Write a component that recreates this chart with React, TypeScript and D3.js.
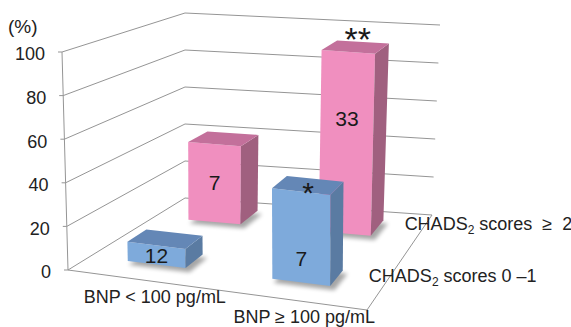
import React from 'react';
import * as d3 from 'd3';

// ---- data ----
const categories = ['BNP < 100 pg/mL', 'BNP ≥ 100 pg/mL'];
const seriesKeys = ['low', 'high'];
const seriesSuffix = [' scores 0 –1', ' scores  ≥  2'];
const lowValues = [9, 42];
const highValues = [40, 92];
const lowCounts = ['12', '7'];
const highCounts = ['7', '33'];
const lowLabelLevel = [4, 11];
const highLabelLevel = [20, 58];
const lowMarks = ['', '*'];
const highMarks = ['', '**'];
const yTicks = [0, 20, 40, 60, 80, 100];

// ---- layout of the 3-D box (screen corners) ----
const W = 571, H = 327;
type P = [number, number];
const FLB: P = [68, 270], FRB: P = [367, 310], BLB: P = [185, 198], BRB: P = [432, 215];
const FLT: P = [62, 52], FRT: P = [367, 86], BLT: P = [185, 13], BRT: P = [440, 25];

const bil = (a: P, b: P, c: P, d: P, u: number, v: number): P => [
  (1 - u) * (1 - v) * a[0] + u * (1 - v) * b[0] + (1 - u) * v * c[0] + u * v * d[0],
  (1 - u) * (1 - v) * a[1] + u * (1 - v) * b[1] + (1 - u) * v * c[1] + u * v * d[1],
];
const proj = (u: number, v: number, h: number): P => {
  const f = bil(FLB, FRB, BLB, BRB, u, v);
  const t = bil(FLT, FRT, BLT, BRT, u, v);
  return [f[0] + (t[0] - f[0]) * h, f[1] + (t[1] - f[1]) * h];
};

const uScale = d3.scaleBand<string>().domain(categories).range([-0.02, 0.98]).paddingInner(0.6).paddingOuter(0.3);
const vScale = d3.scaleBand<string>().domain(seriesKeys).range([0.03, 1.07]).paddingInner(0.69).paddingOuter(0.29);
const hScale = d3.scaleLinear().domain([0, 100]).range([0, 1]);

const colors: Record<string, { front: string; side: string; top: string }> = {
  low: { front: '#7eaadb', side: '#5a7ba2', top: '#6487b6' },
  high: { front: '#f08fbf', side: '#a0607f', top: '#c3709b' },
};

const poly = (pts: P[]) => pts.map((p) => p.join(',')).join(' ');
const FONT = '"Liberation Sans", Arial, Helvetica, sans-serif';
const FS = 18;

export default function App() {
  const series = [
    { key: 'low', values: lowValues, counts: lowCounts, levels: lowLabelLevel, marks: lowMarks },
    { key: 'high', values: highValues, counts: highCounts, levels: highLabelLevel, marks: highMarks },
  ];
  const bw = uScale.bandwidth();
  const bd = vScale.bandwidth();

  const grid = yTicks.map((t) => {
    const h = hScale(t);
    return [proj(0, 0, h), proj(0, 1, h), proj(1, 1, h)];
  });

  const drawOrder = [...series].reverse();
  const gridColor = '#959595';

  return (
    <svg width={W} height={H} style={{ position: 'fixed', left: 0, top: 0, background: '#fff' }}
      fontFamily={FONT}>
      <defs>
        <filter id="sh" x="-30%" y="-30%" width="160%" height="160%">
          <feGaussianBlur stdDeviation="2" />
        </filter>
      </defs>
      <rect x={0} y={0} width={W} height={H} fill="#fff" />
      {grid.map((g, i) => (
        <polyline key={i} points={poly(g)} fill="none" stroke={gridColor} strokeWidth={1} />
      ))}
      <polyline points={poly([proj(0, 0, 0), proj(1, 0, 0), proj(1, 1, 0)])} fill="none" stroke={gridColor} strokeWidth={1} />
      <line x1={proj(0, 0, 0)[0]} y1={proj(0, 0, 0)[1]} x2={proj(0, 0, 1)[0]} y2={proj(0, 0, 1)[1]} stroke={gridColor} strokeWidth={1} />
      {yTicks.map((t) => {
        const p = proj(0, 0, hScale(t));
        return (
          <g key={t}>
            <line x1={p[0] - 4} y1={p[1]} x2={p[0]} y2={p[1]} stroke={gridColor} />
            <text x={p[0] - 17} y={p[1] + 2} dy="0.35em" textAnchor="end" fontSize={FS} fill="#222">{t}</text>
          </g>
        );
      })}
      <text x={8} y={33} fontSize={19} fill="#222">(%)</text>

      {drawOrder.map((s) => (
        <g key={s.key}>
          {categories.map((c, i) => {
            const u0 = uScale(c)!, u1 = u0 + bw;
            const v0 = vScale(s.key)!, v1 = v0 + bd;
            const t = hScale(s.values[i]);
            const col = colors[s.key];
            const front = [proj(u0, v0, 0), proj(u1, v0, 0), proj(u1, v0, t), proj(u0, v0, t)];
            const side = [proj(u1, v0, 0), proj(u1, v1, 0), proj(u1, v1, t), proj(u1, v0, t)];
            const top = [proj(u0, v0, t), proj(u1, v0, t), proj(u1, v1, t), proj(u0, v1, t)];
            const shadow = [proj(u0, v0 - 0.01, 0), proj(u1 + 0.01, v0 - 0.01, 0), proj(u1 + 0.01, v1, 0), proj(u0, v1, 0)];
            const lab = proj(u0 + bw / 2, v0, hScale(s.levels[i]));
            const tc = proj(u0 + bw / 2, v0 + bd / 2, t);
            const mark = s.marks[i];
            const mfs = mark.length > 1 ? 34 : 30;
            return (
              <g key={c}>
                <polygon points={poly(shadow)} transform="translate(2,3)" fill="#000" opacity={0.35} filter="url(#sh)" />
                <polygon points={poly(front)} fill={col.front} />
                <polygon points={poly(side)} fill={col.side} />
                <polygon points={poly(top)} fill={col.top} />
                <text x={lab[0]} y={lab[1]} dy="0.35em" textAnchor="middle" fontSize={21} fill="#1a1a1a">{s.counts[i]}</text>
                {mark && (
                  <text x={tc[0] + (mark.length > 1 ? 2 : 0)} y={tc[1] - (mark.length > 1 ? 16 : 0) + 0.575 * mfs}
                    textAnchor="middle" fontSize={mfs} fill="#1a1a1a">{mark}</text>
                )}
              </g>
            );
          })}
        </g>
      ))}

      {categories.map((c) => {
        const p = proj(uScale(c)! + bw / 2, 0, 0);
        return (
          <text key={c} x={p[0] + 18} y={p[1] + 24} textAnchor="middle" fontSize={FS} fill="#222">{c}</text>
        );
      })}
      {seriesKeys.map((k, i) => {
        const p = proj(1, vScale(k)! + bd / 2, 0);
        return (
          <text key={k} x={p[0] - 16} y={p[1] - 2} fontSize={FS} fill="#222" style={{ whiteSpace: 'pre' }}>
            CHADS<tspan fontSize={12} dy={4}>2</tspan><tspan dy={-4}>{seriesSuffix[i]}</tspan>
          </text>
        );
      })}
    </svg>
  );
}
